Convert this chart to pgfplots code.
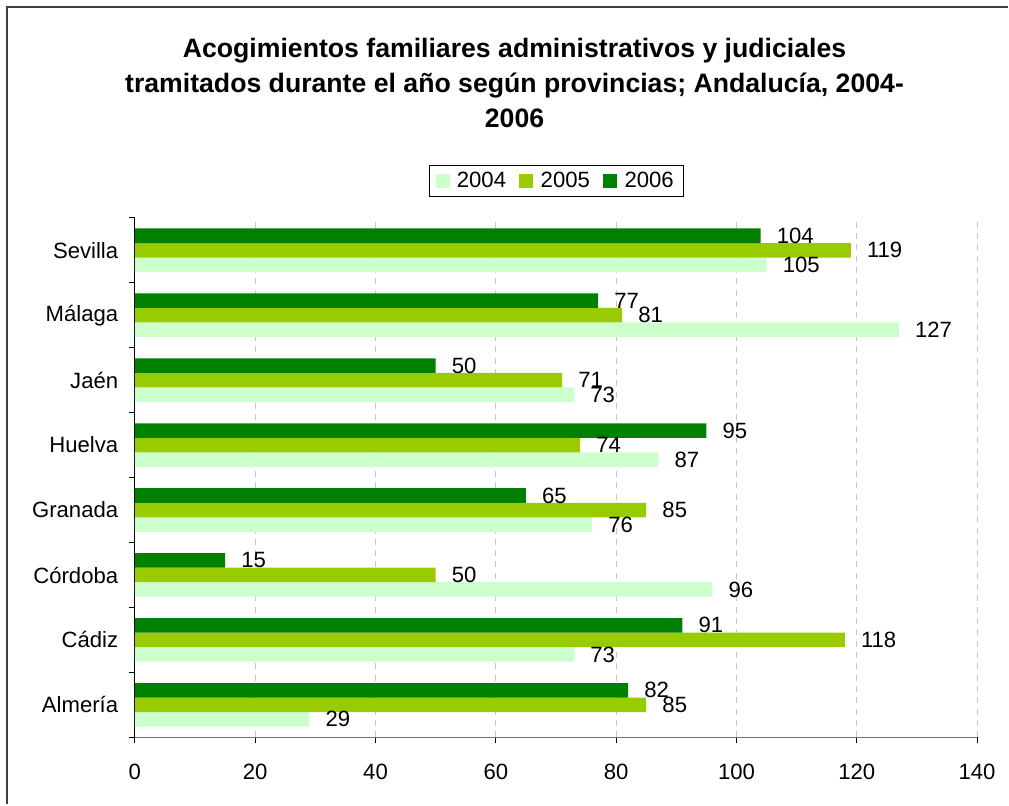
\documentclass[border=0pt]{standalone}
\usepackage{fontspec}
\setmainfont{Liberation Sans}
\usepackage{pgfplots}
\pgfplotsset{compat=1.18}
\definecolor{c2004}{HTML}{CCFFCC}
\definecolor{c2005}{HTML}{99CC00}
\definecolor{c2006}{HTML}{008000}
\newcommand{\lblfont}{\fontsize{16.6}{19}\selectfont}
\begin{document}
\begin{tikzpicture}
\fill[white] (0,0) rectangle (756.75pt,603.75pt);
\draw[line width=1.4pt, black!75] (5.25pt,0) -- (5.25pt,598.5pt) -- (756.75pt,598.5pt);
\node[font=\bfseries\fontsize{20}{26}\selectfont, align=center] at (386.25pt,541.5pt)
 {Acogimientos familiares administrativos y judiciales\\tramitados durante el año según provincias; Andalucía, 2004-\\2006};
\begin{axis}[
 at={(101.25pt,50.25pt)}, anchor=south west,
 scale only axis, width=632.25pt, height=390pt,
 xbar, bar width=10.9pt,
 xmin=0, xmax=140, ymin=-0.5, ymax=7.5,
 xtick={0,20,...,140},
 ytick={0,...,7},
 yticklabels={Almería,Cádiz,Córdoba,Granada,Huelva,Jaén\ ,Málaga,Sevilla},
 minor ytick={-0.5,0.5,...,7.5},
 axis x line*=bottom, axis y line*=left,
 x axis line style={gray!90!black, line width=0.9pt},
 y axis line style={black, line width=0.9pt},
 tick align=outside, major tick length=4.5pt, minor tick length=4.5pt,
 major y tick style={draw=none},
 tick style={black, line width=0.6pt},
 xmajorgrids, major grid style={dashed, gray!45, line width=0.6pt, dash pattern=on 4.5pt off 4pt},
 /pgf/number format/assume math mode=true,
 tick label style={font=\lblfont},
 yticklabel style={xshift=-4.5pt},
 xticklabel style={yshift=-12pt},
 point meta=x,
 nodes near coords,
 every node near coord/.append style={font=\lblfont, anchor=west, inner sep=0pt, xshift=12pt, black},
 legend columns=3,
 legend style={at={(0.5,1)}, anchor=south, yshift=15.75pt, draw=black, line width=0.6pt,
   font=\lblfont, inner xsep=5pt, inner ysep=3pt,
   /tikz/every odd column/.append style={column sep=3.5pt},
   /tikz/every even column/.append style={column sep=8pt}},
 legend image code/.code={\fill[#1] (0pt,-5.25pt) rectangle (10.5pt,5.25pt);},
]
\addplot[fill=c2004, draw=none, bar shift=-10.9pt] coordinates {(29,0) (73,1) (96,2) (76,3) (87,4) (73,5) (127,6) (105,7)};
\addplot[fill=c2005, draw=none, bar shift=0pt] coordinates {(85,0) (118,1) (50,2) (85,3) (74,4) (71,5) (81,6) (119,7)};
\addplot[fill=c2006, draw=none, bar shift=10.9pt] coordinates {(82,0) (91,1) (15,2) (65,3) (95,4) (50,5) (77,6) (104,7)};
\legend{2004,2005,2006}
\end{axis}
\end{tikzpicture}
\end{document}
